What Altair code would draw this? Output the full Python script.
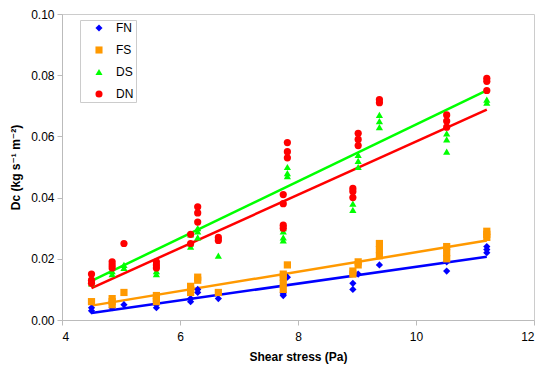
import altair as alt
import pandas as pd

series_names = ["FN", "FS", "DS", "DN"]
series_colors = ["#0000FF", "#FF9900", "#00FF00", "#FF0000"]
series_shapes = ["diamond", "square", "triangle-up", "circle"]
# trend-line colours as drawn in the reference (DS and DN lines appear swapped)
line_colors = ["#0000FF", "#FF9900", "#FF0000", "#00FF00"]

shear = [4.5, 4.85, 5.05, 5.6, 6.18, 6.3, 6.65, 7.75, 7.82, 8.93, 9.02, 9.38, 10.52, 11.2]

fn_vals = [[0.003, 0.004], [0.004], [0.005], [0.004, 0.005], [0.006, 0.007], [0.009, 0.010],
           [0.007], [0.008, 0.0085, 0.009], [0.014], [0.010, 0.012], [0.015], [0.018],
           [0.016, 0.019], [0.022, 0.023, 0.024]]
fs_vals = [[0.006], [0.005, 0.006, 0.007], [0.009], [0.006, 0.007, 0.008], [0.009, 0.010, 0.011],
           [0.013, 0.014], [0.009], [0.010, 0.012, 0.014, 0.015], [0.018], [0.015, 0.016],
           [0.018, 0.019], [0.021, 0.023, 0.025], [0.020, 0.022, 0.024], [0.027, 0.028, 0.029]]
ds_vals = [[0.012, 0.013], [0.015, 0.016], [0.017, 0.018], [0.015, 0.016], [0.024, 0.025, 0.028],
           [0.027, 0.029, 0.030], [0.021], [0.026, 0.027, 0.029, 0.030], [0.047, 0.048, 0.050],
           [0.036, 0.038], [0.050, 0.052, 0.054], [0.063, 0.065, 0.067], [0.055, 0.059, 0.061],
           [0.071, 0.072]]
dn_vals = [[0.012, 0.013, 0.015], [0.017, 0.018, 0.019], [0.025], [0.017, 0.018, 0.019],
           [0.025, 0.028], [0.032, 0.035, 0.037], [0.026, 0.027], [0.030, 0.031, 0.038, 0.041],
           [0.053, 0.055, 0.058], [0.040, 0.042, 0.043], [0.057, 0.059, 0.061], [0.071, 0.072],
           [0.063, 0.065, 0.067], [0.075, 0.078, 0.079]]

rows = []
for name, vals in zip(series_names, [fn_vals, fs_vals, ds_vals, dn_vals]):
    for xv, group in zip(shear, vals):
        for v in group:
            rows.append({"series": name, "x": xv, "y": v})
df = pd.DataFrame(rows)

FONT = "Liberation Sans, DejaVu Sans, sans-serif"

x_enc = alt.X("x:Q", scale=alt.Scale(domain=[4, 12], nice=False),
              axis=alt.Axis(title="Shear stress (Pa)", values=[4, 6, 8, 10, 12], format="d",
                            grid=False, domainColor="#bbbbbb", tickColor="#bbbbbb", tickSize=5,
                            labelPadding=6, labelFontSize=12, labelColor="#000000",
                            titleFontSize=12, titleFontWeight="bold", titlePadding=9,
                            labelFont=FONT, titleFont=FONT))
y_enc = alt.Y("y:Q", scale=alt.Scale(domain=[0, 0.1], nice=False),
              axis=alt.Axis(title="Dc (kg s⁻¹ m⁻²)", values=[0, 0.02, 0.04, 0.06, 0.08, 0.1],
                            format=".2f", grid=False, domainColor="#bbbbbb", tickColor="#bbbbbb",
                            tickSize=5, labelPadding=3, labelFontSize=12, labelColor="#000000",
                            titleFontSize=12, titleFontWeight="bold", titlePadding=8,
                            labelFont=FONT, titleFont=FONT))

LABEL_EXPR = "datum.label + '       '"

points = alt.Chart(df).mark_point(filled=True, size=52, opacity=1).encode(
    x=x_enc, y=y_enc,
    color=alt.Color("series:N", sort=series_names,
                    scale=alt.Scale(domain=series_names, range=series_colors),
                    legend=alt.Legend(title=None, labelExpr=LABEL_EXPR)),
    shape=alt.Shape("series:N", sort=series_names,
                    scale=alt.Scale(domain=series_names, range=series_shapes),
                    legend=alt.Legend(title=None, labelExpr=LABEL_EXPR)),
)

line_layers = []
for name, col in zip(series_names, line_colors):
    line_layers.append(
        alt.Chart(df).transform_filter(alt.datum.series == name)
        .transform_regression("x", "y")
        .mark_line(strokeWidth=2.5, color=col)
        .encode(x="x:Q", y="y:Q")
    )

chart = alt.layer(*line_layers, points).properties(
    width=472, height=306,
    autosize=alt.AutoSizeParams(type="none"),
    padding={"left": 54, "top": 6, "right": 8, "bottom": 48},
).configure_view(stroke="#cccccc", strokeWidth=1).configure_legend(
    orient="none", legendX=18, legendY=6, padding=2, rowPadding=10, symbolSize=50,
    labelFontSize=12, labelFont=FONT, labelOffset=11, strokeColor="#cccccc",
    fillColor="white", symbolOffset=11, labelColor="#000000",
)

chart.save("out.html", embed_options={"renderer": "svg", "actions": False})
